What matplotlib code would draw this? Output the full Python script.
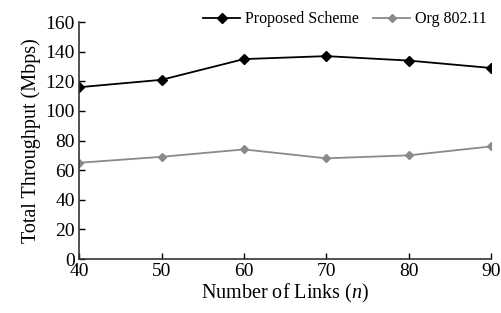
import matplotlib
matplotlib.use("Agg")
import matplotlib.pyplot as plt

links = [40, 50, 60, 70, 80, 90]
proposed = [116, 121, 135, 137, 134, 129]
org = [65, 69, 74, 68, 70, 76]

plt.rcParams['font.family'] = ['Liberation Serif', 'DejaVu Serif']
plt.rcParams['mathtext.fontset'] = 'custom'
plt.rcParams['mathtext.it'] = 'Liberation Serif:italic'
plt.rcParams['mathtext.rm'] = 'Liberation Serif'

fig = plt.figure(figsize=(5.01, 3.13), dpi=100)
ax = fig.add_axes([0.158, 0.1725, 0.822, 0.757])

ax.plot(links, proposed, color='black', marker='D', markersize=5, lw=1.3,
        label='Proposed Scheme')
ax.plot(links, org, color='#8a8a8a', marker='D', markersize=4.5, lw=1.3,
        label='Org 802.11')

ax.set_xlim(40, 90)
ax.set_ylim(0, 160)
ax.set_xticks(links)
ax.set_yticks(range(0, 161, 20))
ax.tick_params(direction='in', length=4, width=1, labelsize=14, pad=3)
for s in ['top', 'right']:
    ax.spines[s].set_visible(False)
for s in ['left', 'bottom']:
    ax.spines[s].set_color('#333333')
    ax.spines[s].set_linewidth(1.2)

ax.set_xlabel('Number of Links ($n$)', fontsize=14.5, labelpad=1)
ax.set_ylabel('Total Throughput (Mbps)', fontsize=14.5, labelpad=3)

ax.legend(loc='upper right', bbox_to_anchor=(1.02, 1.1), ncol=2, frameon=False,
          fontsize=11.5, handlelength=2.3, columnspacing=0.9, handletextpad=0.3,
          borderpad=0.3)

fig.savefig('out.png', dpi=100)
